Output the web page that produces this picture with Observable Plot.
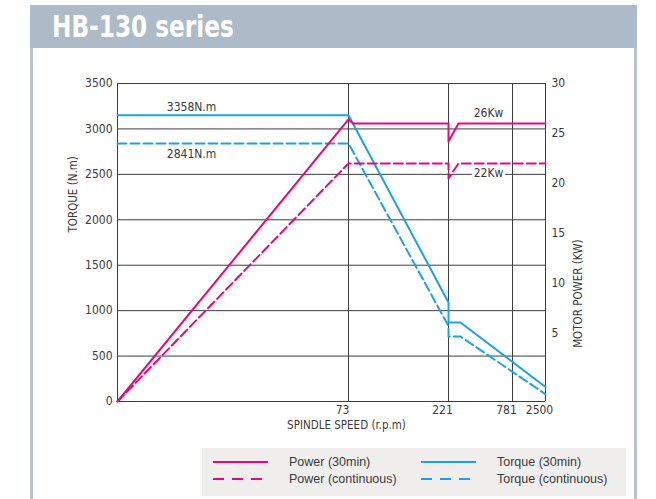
<!DOCTYPE html>
<html><head><meta charset="utf-8">
<script src="https://cdn.jsdelivr.net/npm/d3@7"></script>
<script src="https://cdn.jsdelivr.net/npm/@observablehq/plot@0.6"></script>
<style>
body{margin:0;background:#fff;}
#page{position:relative;width:656px;height:499px;overflow:hidden;font-family:"Liberation Sans Narrow","Arial Narrow","DejaVu Sans Condensed",sans-serif;}
#band{position:absolute;left:30px;top:5px;width:607px;height:43px;background:#adbac8;}
#title{position:absolute;left:22px;top:0;height:43px;line-height:43px;color:#fff;font-weight:bold;font-size:30px;white-space:nowrap;transform:scaleX(0.86);transform-origin:0 50%;}
.frame{position:absolute;top:48px;width:3px;height:451px;background:#b8c3cf;}
#chart{position:absolute;left:0;top:48px;}
#legend{position:absolute;left:202px;top:448px;width:424px;height:48px;background:#efeeed;font-family:"Liberation Sans",Arial,sans-serif;font-size:12.5px;color:#3a3a3a;}
#legend svg{position:absolute;left:0;top:0;}
</style></head>
<body>
<div id="page">
  <div id="band"><div id="title">HB-130 series</div></div>
  <div class="frame" style="left:30px"></div>
  <div class="frame" style="left:634px"></div>
  <div id="chart"></div>
  <div id="legend"></div>
</div>
<script>
// ---- data ----
const speedTicks = [0, 73, 221, 781, 2500];
const speedTickLabels = ["73", "221", "781", "2500"];
const torqueTicks = [0, 500, 1000, 1500, 2000, 2500, 3000, 3500];
const powerTicks = [5, 10, 15, 20, 25, 30];

const torque30Speed = [0, 73, 221, 221, 326, 2500];
const torque30Value = [3150, 3150, 1090, 870, 870, 160];
const torqueContSpeed = [0, 73, 221, 221, 326, 2500];
const torqueContValue = [2841, 2841, 830, 715, 715, 80];
const power30Speed = [0, 73, 80, 221, 221, 308, 2500];
const power30Value = [0, 26.4, 26, 26, 24.2, 26, 26];
const powerContSpeed = [0, 73, 221, 221, 308, 2500];
const powerContValue = [0, 22, 22, 20.5, 22, 22];

const torqueLabelText = ["3358N.m", "2841N.m"];
const torqueLabelSpeed = [23.4, 23.4];
const torqueLabelValue = [3236, 2718];
const powerLabelText = ["26Kw", "22Kw"];
const powerLabelSpeed = [571, 571];
const powerLabelValue = [27.0, 21.0];

const legendNames = ["Power (30min)", "Power (continuous)", "Torque (30min)", "Torque (continuous)"];

// ---- styles ----
const PINK = "#e5097f", BLUE = "#1aa3e3", GRID = "#3d3d3d";
const FONT = '"Liberation Sans Narrow","Arial Narrow","DejaVu Sans Condensed",sans-serif';
const W = 656, H = 392, ML = 117, MR = 111, MT = 35, MB = 39;
const xFrac = [0, 0.5397, 0.7734, 0.9229, 1];
const xRange = xFrac.map(f => ML + f * (W - ML - MR));

// power (kW) -> torque-axis units for the secondary axis
const kw = d3.scaleLinear().domain([0, 5, 30]).range([0, 750, 3500]);

const table = (xs, ys) => xs.map((s, i) => ({speed: s, value: ys[i]}));
const torque30 = table(torque30Speed, torque30Value);
const torqueCont = table(torqueContSpeed, torqueContValue);
const power30 = table(power30Speed, power30Value);
const powerCont = table(powerContSpeed, powerContValue);
const torqueLabels = torqueLabelText.map((t, i) => ({t, speed: torqueLabelSpeed[i], value: torqueLabelValue[i]}));
const powerLabels = powerLabelText.map((t, i) => ({t, speed: powerLabelSpeed[i], value: powerLabelValue[i]}));

const chart = Plot.plot({
  width: W, height: H,
  marginLeft: ML, marginRight: MR, marginTop: MT, marginBottom: MB,
  style: {fontFamily: FONT, fontSize: "12px", color: "#3a3a3a", background: "transparent", overflow: "visible"},
  x: {type: "linear", domain: speedTicks, range: xRange},
  y: {domain: [0, 3500]},
  marks: [
    Plot.gridY(torqueTicks, {stroke: GRID, strokeOpacity: 1, strokeWidth: 1}),
    Plot.gridX(speedTicks, {stroke: GRID, strokeOpacity: 1, strokeWidth: 1}),
    Plot.axisY(torqueTicks, {anchor: "left", tickSize: 0, tickPadding: 5, label: null, tickFormat: d => String(d)}),
    Plot.axisY(powerTicks.map(kw), {anchor: "right", tickSize: 0, tickPadding: 6, label: null,
      tickFormat: d => String(Math.round(kw.invert(d)))}),
    Plot.axisX(speedTicks.slice(1), {anchor: "bottom", tickSize: 0, tickPadding: 4, label: null, dx: -6,
      tickFormat: d => speedTickLabels[speedTicks.indexOf(d) - 1]}),
    Plot.text(["TORQUE (N.m)"], {frameAnchor: "left", rotate: -90, dx: -44, dy: -10, fill: "#3a3a3a", fontSize: 11.5}),
    Plot.text(["MOTOR POWER (KW)"], {frameAnchor: "right", rotate: -90, dx: 33, dy: -3, fill: "#3a3a3a", fontSize: 11.5}),
    Plot.text(["SPINDLE SPEED (r.p.m)"], {frameAnchor: "bottom", dx: 15, dy: 27, fill: "#3a3a3a", fontSize: 11.5}),
    Plot.line(torqueCont, {x: "speed", y: "value", stroke: BLUE, strokeWidth: 2, strokeDasharray: "9,4"}),
    Plot.line(torque30, {x: "speed", y: "value", stroke: BLUE, strokeWidth: 2}),
    Plot.line(powerCont, {x: "speed", y: d => kw(d.value), stroke: PINK, strokeWidth: 2, strokeDasharray: "9,4"}),
    Plot.line(power30, {x: "speed", y: d => kw(d.value), stroke: PINK, strokeWidth: 2}),
    Plot.text(torqueLabels, {x: "speed", y: "value", text: "t", fill: "#3a3a3a"}),
    Plot.text(powerLabels, {x: "speed", y: d => kw(d.value), text: "t", fill: "#3a3a3a",
      stroke: (d, i) => i === 1 ? "white" : "none", strokeWidth: 6})
  ]
});
document.getElementById("chart").appendChild(chart);

// ---- legend ----
const lg = d3.select("#legend").append("svg").attr("width", 424).attr("height", 48);
const items = [
  {name: legendNames[0], color: PINK, dash: null, x: 11, y: 14},
  {name: legendNames[1], color: PINK, dash: "11,8", x: 11, y: 31},
  {name: legendNames[2], color: BLUE, dash: null, x: 219, y: 14},
  {name: legendNames[3], color: BLUE, dash: "11,8", x: 219, y: 31}
];
for (const it of items) {
  lg.append("line").attr("x1", it.x).attr("x2", it.x + 55).attr("y1", it.y).attr("y2", it.y)
    .attr("stroke", it.color).attr("stroke-width", 2).attr("stroke-dasharray", it.dash);
  lg.append("text").attr("x", it.x + 76).attr("y", it.y).attr("dy", "0.35em")
    .attr("fill", "#3a3a3a").style("font-family", '"Liberation Sans",Arial,sans-serif').style("font-size", "12.5px")
    .text(it.name);
}
</script>
</body></html>
